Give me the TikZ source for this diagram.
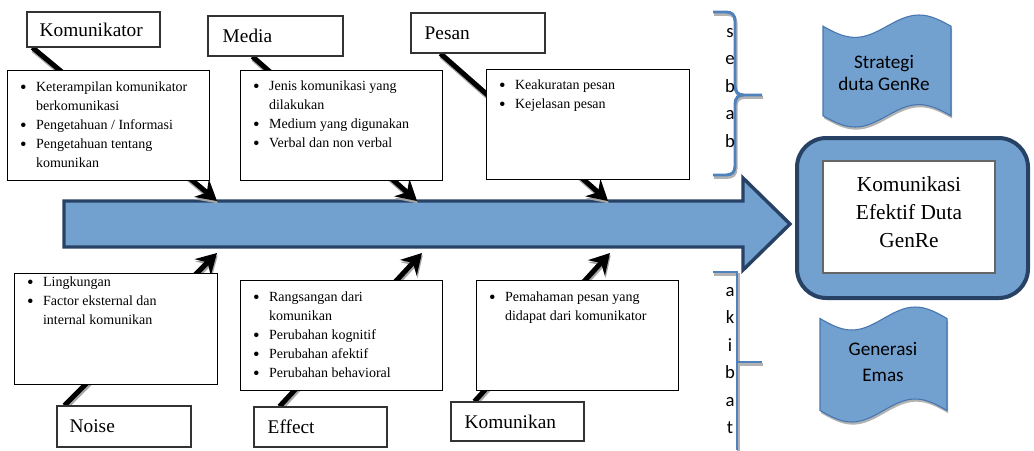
\documentclass[tikz,border=0pt]{standalone}
\usepackage{fontspec}
\setmainfont{Liberation Serif}
\newfontfamily\calibrifont{Carlito}
\usetikzlibrary{arrows.meta,fit,calc}
\definecolor{fillblue}{RGB}{114,160,207}
\definecolor{darkblue}{RGB}{40,66,102}
\definecolor{braceblue}{RGB}{79,129,189}
\definecolor{flagedge}{RGB}{70,118,176}
\pgfdeclarelayer{bg}
\pgfsetlayers{bg,main}
\newcommand\blist[1]{\begin{tabular}[t]{@{}p{12pt}@{}l@{}}#1\end{tabular}}
\newcommand\bul{\raisebox{-1.2pt}{\fontsize{14}{14}\selectfont\textbullet}}
\newcommand\stackletters[1]{\begin{tabular}[t]{@{}c@{}}#1\end{tabular}}
\tikzset{
  lbox/.style={draw=black!80, line width=0.8pt, fill=white, inner sep=0pt},
  cbox/.style={draw=black, line width=0.75pt, fill=white, inner sep=0pt},
  ltext/.style={anchor=west, inner sep=0pt, font=\fontsize{14.5}{17}\selectfont},
  ctext/.style={anchor=base west, inner sep=0pt, font=\fontsize{10.5}{14.25}\selectfont},
  bone/.style={line width=3.75pt, draw=black, -{Stealth[length=15pt,width=17pt,inset=5pt]}},
  boneshadow/.style={bone, draw=black!35, transform canvas={shift={(0.6pt,-1.8pt)}}},
  spinearrow/.style={fill=fillblue, draw=darkblue, line width=2.6pt, line join=miter},
  flagshape/.style={fill=fillblue, draw=flagedge, line width=0.8pt},
  flagshadow/.style={fill=black!30, draw=none, transform canvas={shift={(0.8pt,-2pt)}}},
  flagtext/.style={inner sep=0pt, align=center, font=\calibrifont\fontsize{14.4}{16.5}\selectfont},
  bracestyle/.style={draw=braceblue, line width=2.2pt},
  braceshadow/.style={draw=black!30, line width=2.2pt, transform canvas={shift={(0.8pt,-1.8pt)}}},
  bracetext/.style={anchor=base, inner sep=0pt, font=\calibrifont\fontsize{14}{20.6}\selectfont},
}
\newcommand\drawbone[2]{\draw[boneshadow] #1 -- #2; \draw[bone] #1 -- #2;}
\begin{document}
\begin{tikzpicture}[x=0.75pt,y=-0.75pt]
\useasboundingbox (0,0) rectangle (1034,450);

% spine
\begin{pgfonlayer}{bg}
\draw[spinearrow] (64,201) -- (743,201) -- (743,178) -- (790,224) -- (743,270) -- (743,247) -- (64,247) -- cycle;
\end{pgfonlayer}

% label boxes
\node[lbox, fit={(27,12) (160,47)}] (komlab) {};
\node[ltext] (komlabt) at ([xshift=9.75pt]komlab.west) {Komunikator};
\node[lbox, fit={(208,16) (343,56)}] (medlab) {};
\node[ltext] (medlabt) at ([xshift=11.25pt]medlab.west) {Media};
\node[lbox, fit={(411,13) (545,53)}] (peslab) {};
\node[ltext] (peslabt) at ([xshift=10.5pt]peslab.west) {Pesan};
\node[lbox, fit={(57,406) (191,447)}] (noilab) {};
\node[ltext] (noilabt) at ([xshift=9.75pt]noilab.west) {Noise};
\node[lbox, fit={(254,407) (387,447)}] (efflab) {};
\node[ltext] (efflabt) at ([xshift=10.5pt]efflab.west) {Effect};
\node[lbox, fit={(451,402) (584,441)}] (kmnlab) {};
\node[ltext] (kmnlabt) at ([xshift=10.5pt]kmnlab.west) {Komunikan};

% tips of the bones
\coordinate (t1) at (217,201);
\coordinate (t2) at (417,201);
\coordinate (t3) at (608,201);
\coordinate (t4) at (217,253);
\coordinate (t5) at (422,253);
\coordinate (t6) at (610,253);

\begin{pgfonlayer}{bg}
\drawbone{([xshift=4.5pt]komlab.south west)}{(t1)}
\drawbone{([xshift=33.75pt]medlab.south west)}{(t2)}
\drawbone{([xshift=22.5pt]peslab.south west)}{(t3)}
\drawbone{([xshift=6pt]noilab.north west)}{(t4)}
\drawbone{([xshift=19.5pt]efflab.north west)}{(t5)}
\drawbone{([xshift=18pt]kmnlab.north west)}{(t6)}
\end{pgfonlayer}

% content boxes
\node[cbox, fit={(7,70) (209,180)}] (kombox) {};
\node[ctext] (komboxt) at ([xshift=10pt,yshift=-16.5pt]kombox.north west)
  {\blist{\bul & Keterampilan komunikator\\ & berkomunikasi\\ \bul & Pengetahuan / Informasi\\ \bul & Pengetahuan tentang\\ & komunikan}};
\node[cbox, fit={(240,70) (442,180)}] (medbox) {};
\node[ctext] (medboxt) at ([xshift=10pt,yshift=-15.75pt]medbox.north west)
  {\blist{\bul & Jenis komunikasi yang\\ & dilakukan\\ \bul & Medium yang digunakan\\ \bul & Verbal dan non verbal}};
\node[cbox, fit={(486,69) (689,179)}] (pesbox) {};
\node[ctext] (pesboxt) at ([xshift=10pt,yshift=-15.75pt]pesbox.north west)
  {\blist{\bul & Keakuratan pesan\\ \bul & Kejelasan pesan}};
\node[cbox, fit={(14,273) (217,384)}] (noibox) {};
\node[ctext] (noiboxt) at ([xshift=10pt,yshift=-10.5pt]noibox.north west)
  {\blist{\bul & Lingkungan\\ \bul & Factor eksternal dan\\ & internal komunikan}};
\node[cbox, fit={(240,280) (442,390)}] (effbox) {};
\node[ctext] (effboxt) at ([xshift=10pt,yshift=-16.5pt]effbox.north west)
  {\blist{\bul & Rangsangan dari\\ & komunikan\\ \bul & Perubahan kognitif\\ \bul & Perubahan afektif\\ \bul & Perubahan behavioral}};
\node[cbox, fit={(476,280) (678,390)}] (kmnbox) {};
\node[ctext] (kmnboxt) at ([xshift=10pt,yshift=-16.5pt]kmnbox.north west)
  {\blist{\bul & Pemahaman pesan yang\\ & didapat dari komunikator}};

% goal box
\node[draw=darkblue, line width=3pt, fill=fillblue, rounded corners=22pt, inner sep=0pt, fit={(797,138) (1028,298)}] (goalout) {};
\node[draw=black!60, line width=0.8pt, fill=white, inner sep=0pt, fit={(823,161) (995,273)}] (goalin) {};
\node[inner sep=0pt, align=center, font=\fontsize{16}{21}\selectfont] (goaltext) at (909,212) {Komunikasi\\Efektif Duta\\GenRe};

% flags
\fill[flagshadow] (823,26.2) sin (855,37.4) cos (887,26.2) sin (919,15) cos (951,26.2) -- (951,115.8) sin (919,104.6) cos (887,115.8) sin (855,127) cos (823,115.8) -- cycle;
\draw[flagshape] (823,26.2) sin (855,37.4) cos (887,26.2) sin (919,15) cos (951,26.2) -- (951,115.8) sin (919,104.6) cos (887,115.8) sin (855,127) cos (823,115.8) -- cycle;
\node[flagtext] (strat) at (884,73) {Strategi\\duta GenRe};

\fill[flagshadow] (820,318.5) sin (851.75,330) cos (883.5,318.5) sin (915.25,307) cos (947,318.5) -- (947,410.5) sin (915.25,399) cos (883.5,410.5) sin (851.75,422) cos (820,410.5) -- cycle;
\draw[flagshape] (820,318.5) sin (851.75,330) cos (883.5,318.5) sin (915.25,307) cos (947,318.5) -- (947,410.5) sin (915.25,399) cos (883.5,410.5) sin (851.75,422) cos (820,410.5) -- cycle;
\node[flagtext, font=\calibrifont\fontsize{14.4}{20}\selectfont] (gener) at (883,362) {Generasi\\Emas};

% braces
\draw[braceshadow] (713,12) -- (726,12) .. controls (732,12) and (735,15) .. (735,21) -- (735,86) .. controls (735,92) and (738,95) .. (744,95) -- (762,95)
  (744,95) .. controls (738,95) and (735,98) .. (735,104) -- (735,166) .. controls (735,172) and (732,175) .. (726,175) -- (713,175);
\draw[bracestyle] (713,12) -- (726,12) .. controls (732,12) and (735,15) .. (735,21) -- (735,86) .. controls (735,92) and (738,95) .. (744,95) -- (762,95)
  (744,95) .. controls (738,95) and (735,98) .. (735,104) -- (735,166) .. controls (735,172) and (732,175) .. (726,175) -- (713,175);
\node[bracetext] (sebab) at (730,37.5) {\stackletters{s\\e\\b\\a\\b}};

\draw[braceshadow] (713,272) -- (737,272) -- (737,450) (737,362) -- (762,362);
\draw[bracestyle] (713,272) -- (737,272) -- (737,450) (737,362) -- (762,362);
\node[bracetext] (akibat) at (730,296.5) {\stackletters{a\\k\\i\\b\\a\\t}};
\end{tikzpicture}
\end{document}
